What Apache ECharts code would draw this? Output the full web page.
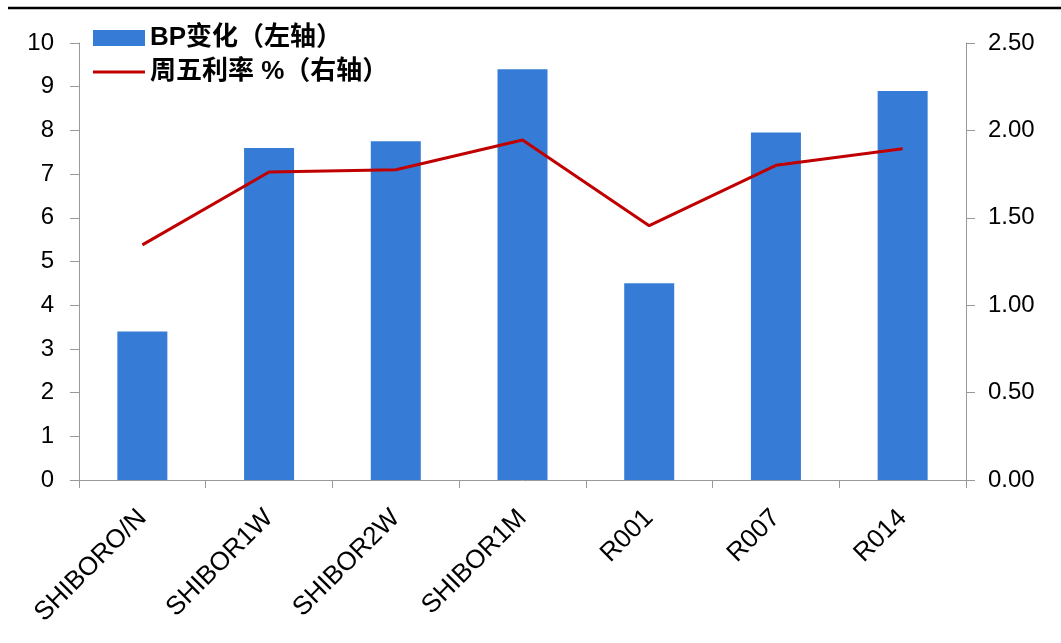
<!DOCTYPE html>
<html>
<head>
<meta charset="utf-8">
<script src="https://cdn.jsdelivr.net/npm/echarts@6/dist/echarts.min.js"></script>
<style>
  html, body { margin: 0; padding: 0; background: #fff; }
  #chart { width: 1061px; height: 643px; }
</style>
</head>
<body>
<div id="chart"></div>
<script>
// categories and values
const categories = ['SHIBORO/N', 'SHIBOR1W', 'SHIBOR2W', 'SHIBOR1M', 'R001', 'R007', 'R014'];
const bpChange = [3.4, 7.6, 7.75, 9.4, 4.5, 7.95, 8.9];
const fridayRate = [1.345, 1.762, 1.775, 1.945, 1.455, 1.8, 1.895];
const leftTicks = [0, 10, 1];      // min, max, interval
const rightTicks = [0, 2.5, 0.5];

const font = 'Arial, "Liberation Sans", "Noto Sans CJK SC", sans-serif';

const chart = echarts.init(document.getElementById('chart'));
chart.setOption({
    animation: false,
    textStyle: { fontFamily: font },
    graphic: [
        { type: 'line', shape: { x1: 8, y1: 8, x2: 1061, y2: 8 }, style: { stroke: '#000', lineWidth: 2.5 } }
    ],
    legend: {
        orient: 'vertical',
        left: 88,
        top: 20,
        itemGap: 8,
        itemWidth: 52,
        itemHeight: 16,
        textStyle: { fontSize: 26, fontWeight: 'bold', color: '#000', fontFamily: font },
        data: [
            { name: 'BP变化（左轴）', icon: 'rect' },
            { name: '周五利率 %（右轴）', icon: 'path://M0,7 L52,7 L52,10 L0,10 Z' }
        ]
    },
    grid: { left: 79, right: 95, top: 43, bottom: 163 },
    xAxis: {
        type: 'category',
        data: categories,
        axisLine: { lineStyle: { color: '#999', width: 1 } },
        axisTick: { show: true, length: 8, lineStyle: { color: '#999' } },
        axisLabel: { rotate: 45, fontSize: 26, color: '#000', margin: 34, interval: 0 }
    },
    yAxis: [
        {
            type: 'value',
            min: leftTicks[0], max: leftTicks[1], interval: leftTicks[2],
            splitLine: { show: false },
            axisLine: { show: true, lineStyle: { color: '#999' } },
            axisTick: { show: true, length: 9, lineStyle: { color: '#999' } },
            axisLabel: { fontSize: 24, color: '#000', margin: 25 }
        },
        {
            type: 'value',
            min: rightTicks[0], max: rightTicks[1], interval: rightTicks[2],
            splitLine: { show: false },
            axisLine: { show: true, lineStyle: { color: '#999' } },
            axisTick: { show: true, length: 9, lineStyle: { color: '#999' } },
            axisLabel: { fontSize: 24, color: '#000', margin: 22, formatter: v => v.toFixed(2) }
        }
    ],
    series: [
        {
            name: 'BP变化（左轴）',
            type: 'bar',
            data: bpChange,
            barWidth: 50,
            itemStyle: { color: '#367CD6' }
        },
        {
            name: '周五利率 %（右轴）',
            type: 'line',
            yAxisIndex: 1,
            data: fridayRate,
            symbol: 'none',
            lineStyle: { color: '#C00000', width: 3 },
            itemStyle: { color: '#C00000' }
        }
    ]
});
</script>
</body>
</html>
